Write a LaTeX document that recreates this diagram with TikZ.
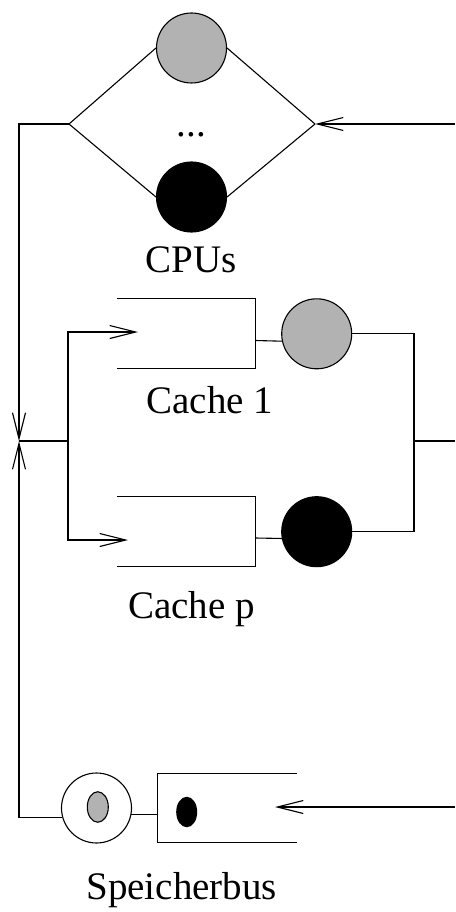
\documentclass[tikz,border=0pt]{standalone}
\usepackage{fontspec}
\setmainfont{Liberation Serif}
\usetikzlibrary{arrows.meta,shapes.geometric}
\begin{document}
\begin{tikzpicture}[x=1pt,y=-1pt,line width=1.1pt,
  srv/.style={circle,draw,minimum size=70pt,inner sep=0pt},
  qbox/.style={rectangle,inner sep=0pt,minimum width=137pt,minimum height=69pt},
  arr/.style={-{Straight Barb[length=26pt,width=13pt,line width=1.1pt]}},
  lbl/.style={font=\fontsize{39}{45}\selectfont,anchor=base,inner sep=0pt}]
\useasboundingbox (0,0) rectangle (455,912);
% CPUs
\node[srv,fill=black!30] (cpu1) at (191.5,48) {};
\node[srv,fill=black] (cpu2) at (191.5,197) {};
\node[lbl] (dots) at (191.5,137) {...};
\node[lbl] (cpul) at (191.5,272) {CPUs};
\coordinate (dl) at (69,124);
\coordinate (dr) at (315,124);
\draw (dl) -- (cpu1.west);
\draw (dl) -- (cpu2.west);
\draw (dr) -- (cpu1.east);
\draw (dr) -- (cpu2.east);
\coordinate (rtop) at (455,124);
\draw[arr] (rtop) -- (dr);
% left bus
\coordinate (lt) at (19,124);
\coordinate (jn) at (19,441);
\coordinate (sp) at (68,441);
\draw[arr] (dl) -- (lt) -- (jn);
% caches
\node[qbox] (q1) at (186.5,333.5) {};
\node[qbox] (qp) at (186.5,531.5) {};
\draw (q1.north west) -- (q1.north east) -- (q1.south east) -- (q1.south west);
\draw (qp.north west) -- (qp.north east) -- (qp.south east) -- (qp.south west);
\node[srv,fill=black!30] (c1) at (316.7,333.8) {};
\node[srv,fill=black] (cp) at (316.7,531.7) {};
\node[lbl] (c1l) at (210,413) {Cache 1};
\node[lbl] (cpl) at (191.5,618) {Cache p};
\draw ([yshift=-7pt]q1.east) -- (c1.192);
\draw ([yshift=-6.5pt]qp.east) -- (cp.191);
\coordinate (a1) at (138,332);
\coordinate (a2) at (128,540);
\draw (jn) -- (sp);
\draw[arr] (sp) |- (a1);
\draw[arr] (sp) |- (a2);
\coordinate (rj) at (414,441);
\coordinate (rr) at (455,441);
\draw (c1.east) -| (rj) |- (cp.east);
\draw (rj) -- (rr);
% Speicherbus
\node[srv,fill=white] (sb) at (96.5,808) {};
\node[ellipse,draw,fill=black!30,minimum width=21pt,minimum height=30.5pt,inner sep=0pt] (sbi) at (97.8,807) {};
\node[qbox,minimum height=68pt,minimum width=138pt] (qb) at (227,808.3) {};
\draw (qb.north east) -- (qb.north west) -- (qb.south west) -- (qb.south east);
\node[ellipse,fill=black,minimum width=21pt,minimum height=30.5pt,inner sep=0pt] (qbi) at (186.7,812) {};
\draw (sb.-11) -- (sb.-11 -| qb.west);
\draw[arr] (sb.195) -- (sb.195 -| jn) -- (jn);
\coordinate (rb) at (455,807);
\coordinate (a3) at (275,807);
\draw[arr] (rb) -- (a3);
\node[lbl] (sbl) at (181.7,899) {Speicherbus};
\end{tikzpicture}
\end{document}
